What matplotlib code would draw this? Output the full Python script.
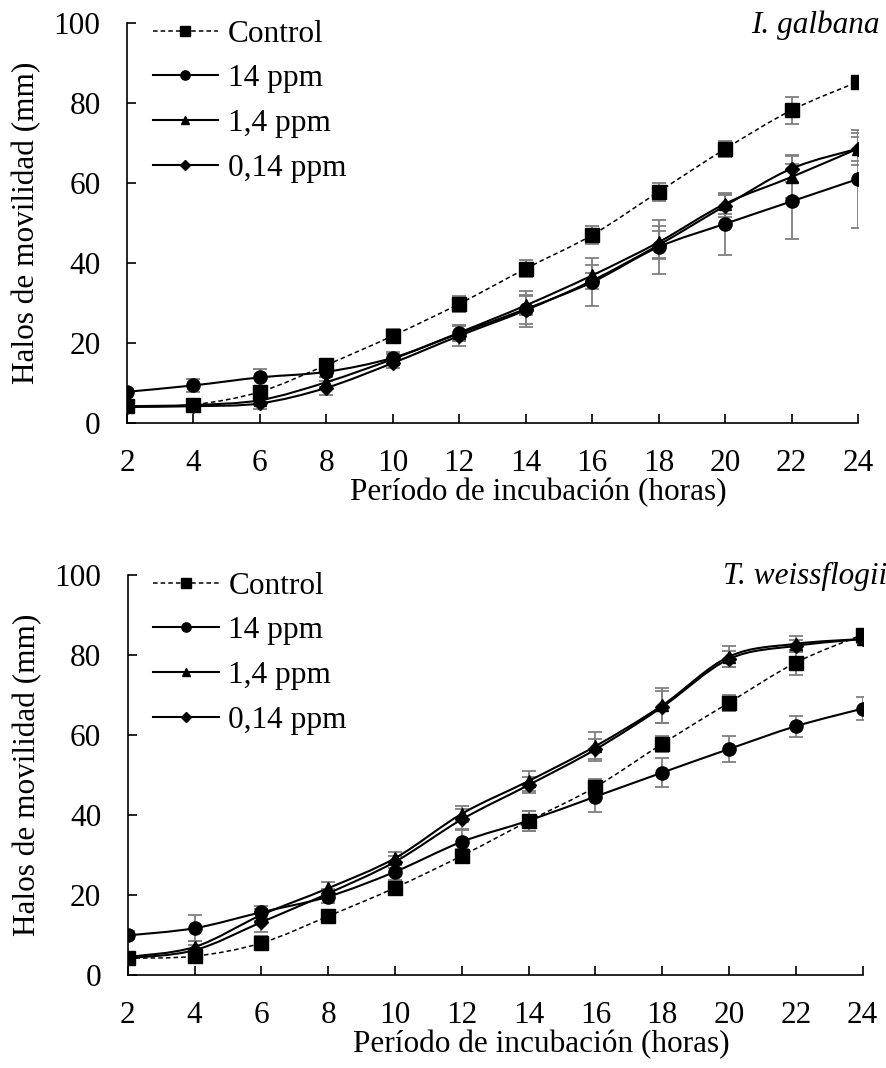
import numpy as np
import matplotlib
matplotlib.use("Agg")
import matplotlib.pyplot as plt
from matplotlib.path import Path
from matplotlib.patches import PathPatch
from matplotlib.lines import Line2D

plt.rcParams['font.family'] = ['Liberation Serif', 'DejaVu Serif']

horas = [2, 4, 6, 8, 10, 12, 14, 16, 18, 20, 22, 24]
series = ['Control', '14 ppm', '1,4 ppm', '0,14 ppm']

# I. galbana
gal_control = [4.2, 4.6, 7.8, 14.5, 21.8, 29.8, 38.6, 47.0, 57.8, 68.5, 78.2, 85.3]
gal_14 = [7.8, 9.4, 11.4, 12.8, 16.3, 22.4, 28.5, 35.2, 44.0, 49.8, 55.4, 61.0]
gal_1_4 = [4.2, 4.5, 5.7, 10.2, 16.0, 22.6, 29.4, 36.9, 45.2, 54.8, 61.5, 68.6]
gal_0_14 = [4.0, 4.2, 4.9, 8.8, 15.0, 21.8, 28.2, 35.6, 44.5, 54.3, 63.6, 68.6]
gal_err_control = [0.8, 1.0, 1.5, 1.2, 1.6, 2.0, 2.1, 2.3, 2.2, 2.0, 3.4, 0.6]
gal_err_14 = [0.8, 1.7, 2.2, 1.2, 1.5, 2.0, 4.5, 6.0, 6.8, 7.7, 9.3, 12.2]
gal_err_1_4 = [0.6, 0.8, 1.2, 1.2, 1.2, 2.0, 2.5, 2.5, 4.0, 2.5, 5.3, 4.0]
gal_err_0_14 = [0.5, 0.8, 1.5, 1.8, 1.2, 2.5, 3.5, 2.0, 3.5, 2.8, 3.3, 3.0]

# T. weissflogii
wei_control = [4.2, 4.7, 8.0, 14.7, 21.8, 29.8, 38.5, 47.0, 57.8, 68.1, 78.1, 85.1]
wei_14 = [9.9, 11.7, 15.7, 19.6, 25.8, 33.3, 38.6, 44.6, 50.6, 56.5, 62.2, 66.6]
wei_1_4 = [4.5, 7.0, 15.0, 21.7, 29.2, 40.3, 48.5, 57.2, 67.4, 79.6, 82.8, 84.0]
wei_0_14 = [4.2, 6.2, 13.2, 20.4, 28.3, 38.9, 47.5, 56.4, 67.0, 79.0, 82.3, 84.0]
wei_err_control = [1.2, 1.0, 1.8, 0.8, 1.8, 1.8, 2.5, 2.0, 2.0, 2.0, 3.2, 1.0]
wei_err_14 = [1.0, 3.2, 1.5, 1.5, 2.0, 3.0, 2.5, 3.8, 3.6, 3.3, 2.6, 2.8]
wei_err_1_4 = [1.0, 1.6, 1.5, 1.6, 1.6, 2.0, 2.6, 3.6, 4.3, 2.6, 2.0, 1.0]
wei_err_0_14 = [0.8, 1.2, 2.5, 1.2, 1.5, 2.5, 2.0, 2.5, 4.0, 2.0, 1.5, 1.0]

markers = ['s', 'o', '^', 'D']
msizes = [9.5, 9.5, 9, 7]
styles = [(0, (3, 2)), '-', '-', '-']
widths = [1.1, 1.5, 1.5, 1.5]
FS = 22.5


def smooth(x, y):
    # excel-like smoothed line (bezier through the points)
    p = np.column_stack([x, y]).astype(float)
    n = len(p)
    verts = [p[0]]
    codes = [Path.MOVETO]
    for i in range(n - 1):
        p0 = p[max(i - 1, 0)]
        p1 = p[i]
        p2 = p[i + 1]
        p3 = p[min(i + 2, n - 1)]
        verts += [p1 + (p2 - p0) / 6, p2 - (p3 - p1) / 6, p2]
        codes += [Path.CURVE4] * 3
    return Path(verts, codes)


def panel(ax, data, errs, nombre, xname, ybase):
    for k in range(4):
        ax.errorbar(horas, data[k], yerr=errs[k], fmt='none', ecolor='#7f7f7f',
                    elinewidth=1.3, capsize=5, capthick=1.3, zorder=2)
        ax.add_patch(PathPatch(smooth(horas, data[k]), fill=False, edgecolor='black',
                               lw=widths[k], ls=styles[k], zorder=3))
        ax.plot(horas, data[k], ls='none', marker=markers[k], ms=msizes[k],
                color='black', zorder=4)
    ax.set_xlim(2, 24)
    ax.set_ylim(0, 100)
    ax.set_xticks(horas)
    ax.set_yticks([0, 20, 40, 60, 80, 100])
    ax.spines['top'].set_visible(False)
    ax.spines['right'].set_visible(False)
    for s in ['left', 'bottom']:
        ax.spines[s].set_linewidth(1.2)
    ax.tick_params(direction='in', length=6.5, width=1.2, labelsize=FS, pad=19)
    ax.set_xlabel('Período de incubación (horas)', fontsize=FS, labelpad=0)
    ax.xaxis.label.set_x(0.563)
    ax.set_ylabel('Halos de movilidad (mm)', fontsize=FS, labelpad=9)
    handles = [Line2D([], [], color='black', ls=styles[k], lw=widths[k], marker=markers[k],
                      ms=msizes[k] * 0.7) for k in range(4)]
    ax.legend(handles, series, loc='upper left', bbox_to_anchor=(0.035, 1.008), frameon=False,
              fontsize=FS, handlelength=2.1, handletextpad=0.3, labelspacing=0.5,
              borderpad=0, borderaxespad=0)
    fig.text(xname / 886, 1 - ybase / 1068, nombre, fontsize=FS, style='italic',
             ha='right', va='baseline')


fig = plt.figure(figsize=(8.86, 10.68), dpi=100)
ax1 = fig.add_axes([127 / 886, 1 - 423 / 1068, 731 / 886, 400 / 1068])
ax2 = fig.add_axes([127.7 / 886, 1 - 975 / 1068, 735 / 886, 400 / 1068])

panel(ax1, [gal_control, gal_14, gal_1_4, gal_0_14],
      [gal_err_control, gal_err_14, gal_err_1_4, gal_err_0_14], 'I. galbana', 880, 33)
panel(ax2, [wei_control, wei_14, wei_1_4, wei_0_14],
      [wei_err_control, wei_err_14, wei_err_1_4, wei_err_0_14], 'T. weissflogii', 887, 584)

fig.savefig('out.png', dpi=100)
